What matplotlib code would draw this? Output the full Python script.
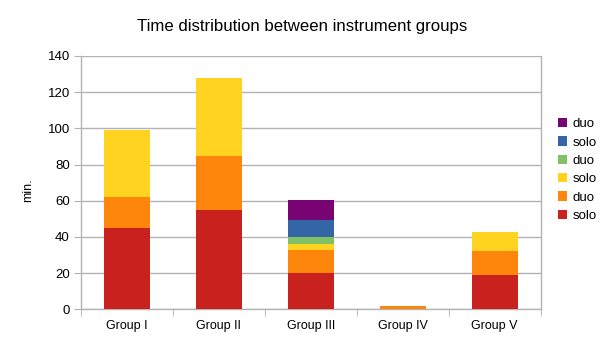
import matplotlib
matplotlib.use("Agg")
import matplotlib.pyplot as plt
import numpy as np

plt.rcParams["font.family"] = ["Liberation Sans", "DejaVu Sans"]

# data
groups = ["Group I", "Group II", "Group III", "Group IV", "Group V"]
series_names = ["solo", "duo", "solo", "duo", "solo", "duo"]
solo_red = [45, 55, 20, 0, 19]
duo_orange = [17, 30, 13, 1.7, 13.4]
solo_yellow = [37, 43, 3.3, 0, 10.5]
duo_green = [0, 0, 3.7, 0, 0]
solo_blue = [0, 0, 9.4, 0, 0]
duo_purple = [0, 0, 11, 0, 0]

series = [solo_red, duo_orange, solo_yellow, duo_green, solo_blue, duo_purple]
colors = ["#C9211E", "#FF860D", "#FFD320", "#81C065", "#3465A4", "#780373"]

fig = plt.figure(figsize=(6.05, 3.4), dpi=100)
ax = fig.add_axes([81 / 605, 1 - 309.3 / 340, (540.7 - 81) / 605, (309.3 - 56) / 340])

x = np.arange(len(groups))
bottom = np.zeros(len(groups))
handles = []
for vals, name, col in zip(series, series_names, colors):
    vals = np.array(vals, dtype=float)
    b = ax.bar(x, vals, width=0.5, bottom=bottom, color=col, label=name, zorder=3)
    handles.append(b)
    bottom += vals

ax.set_xlim(-0.5, len(groups) - 0.5)
ax.set_ylim(0, 140)
ax.set_yticks(range(0, 141, 20))
ax.set_xticks(x)
ax.set_xticklabels(groups, fontsize=9)
ax.set_xticks(np.arange(-0.5, len(groups), 1), minor=True)
ax.tick_params(axis="x", which="major", length=0, pad=8)
ax.tick_params(axis="x", which="minor", length=5, color="#b3b3b3")
ax.tick_params(axis="y", length=5, color="#b3b3b3", labelsize=9.5, pad=3)

ax.grid(axis="y", color="#b3b3b3", linewidth=1, zorder=0)
ax.spines["top"].set_visible(False)
for s in ["left", "bottom", "right"]:
    ax.spines[s].set_color("#b3b3b3")
    ax.spines[s].set_linewidth(1)

fig.text(28 / 605, 1 - 190 / 340, "min.", rotation=90, ha="center", va="center", fontsize=9)
fig.text(0.5, 1 - 27 / 340, "Time distribution between instrument groups",
         ha="center", va="center", fontsize=12.1)

leg = fig.legend(handles[::-1], [h.get_label() for h in handles[::-1]],
                 loc="center left", bbox_to_anchor=(546 / 605, 1 - 170 / 340),
                 frameon=False, fontsize=9.5, handlelength=0.7, handleheight=0.7,
                 handletextpad=0.4, labelspacing=0.46)

fig.savefig("out.png", dpi=100)
